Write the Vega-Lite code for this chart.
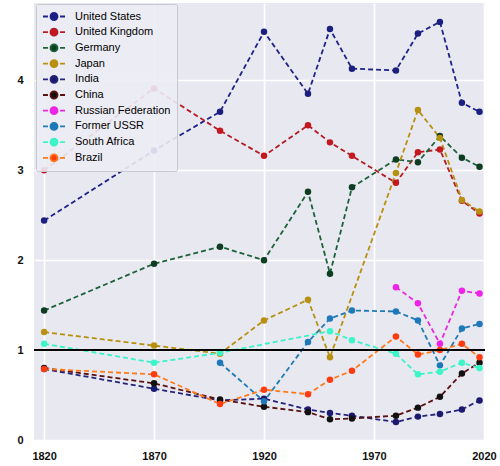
{
  "$schema": "https://vega.github.io/schema/vega-lite/v6.json",
  "width": 451,
  "height": 437,
  "autosize": "none",
  "padding": {"left": 34, "top": 3, "right": 15, "bottom": 26},
  "background": "white",
  "data": {
    "values": [
      {"country": "United States", "year": 1820, "value": 2.44},
      {"country": "United States", "year": 1870, "value": 3.22},
      {"country": "United States", "year": 1900, "value": 3.65},
      {"country": "United States", "year": 1920, "value": 4.54},
      {"country": "United States", "year": 1940, "value": 3.85},
      {"country": "United States", "year": 1950, "value": 4.57},
      {"country": "United States", "year": 1960, "value": 4.13},
      {"country": "United States", "year": 1980, "value": 4.11},
      {"country": "United States", "year": 1990, "value": 4.52},
      {"country": "United States", "year": 2000, "value": 4.65},
      {"country": "United States", "year": 2010, "value": 3.75},
      {"country": "United States", "year": 2018, "value": 3.65},
      {"country": "United Kingdom", "year": 1820, "value": 3.0},
      {"country": "United Kingdom", "year": 1870, "value": 3.91},
      {"country": "United Kingdom", "year": 1900, "value": 3.44},
      {"country": "United Kingdom", "year": 1920, "value": 3.16},
      {"country": "United Kingdom", "year": 1940, "value": 3.5},
      {"country": "United Kingdom", "year": 1950, "value": 3.31},
      {"country": "United Kingdom", "year": 1960, "value": 3.16},
      {"country": "United Kingdom", "year": 1980, "value": 2.86},
      {"country": "United Kingdom", "year": 1990, "value": 3.2},
      {"country": "United Kingdom", "year": 2000, "value": 3.23},
      {"country": "United Kingdom", "year": 2010, "value": 2.66},
      {"country": "United Kingdom", "year": 2018, "value": 2.52},
      {"country": "Germany", "year": 1820, "value": 1.44},
      {"country": "Germany", "year": 1870, "value": 1.96},
      {"country": "Germany", "year": 1900, "value": 2.15},
      {"country": "Germany", "year": 1920, "value": 2.0},
      {"country": "Germany", "year": 1940, "value": 2.76},
      {"country": "Germany", "year": 1950, "value": 1.85},
      {"country": "Germany", "year": 1960, "value": 2.81},
      {"country": "Germany", "year": 1980, "value": 3.12},
      {"country": "Germany", "year": 1990, "value": 3.09},
      {"country": "Germany", "year": 2000, "value": 3.38},
      {"country": "Germany", "year": 2010, "value": 3.14},
      {"country": "Germany", "year": 2018, "value": 3.04},
      {"country": "Japan", "year": 1820, "value": 1.2},
      {"country": "Japan", "year": 1870, "value": 1.05},
      {"country": "Japan", "year": 1900, "value": 0.96},
      {"country": "Japan", "year": 1920, "value": 1.33},
      {"country": "Japan", "year": 1940, "value": 1.56},
      {"country": "Japan", "year": 1950, "value": 0.92},
      {"country": "Japan", "year": 1980, "value": 2.97},
      {"country": "Japan", "year": 1990, "value": 3.67},
      {"country": "Japan", "year": 2000, "value": 3.36},
      {"country": "Japan", "year": 2010, "value": 2.67},
      {"country": "Japan", "year": 2018, "value": 2.54},
      {"country": "India", "year": 1820, "value": 0.79},
      {"country": "India", "year": 1870, "value": 0.57},
      {"country": "India", "year": 1900, "value": 0.44},
      {"country": "India", "year": 1920, "value": 0.46},
      {"country": "India", "year": 1940, "value": 0.34},
      {"country": "India", "year": 1950, "value": 0.3},
      {"country": "India", "year": 1960, "value": 0.27},
      {"country": "India", "year": 1980, "value": 0.2},
      {"country": "India", "year": 1990, "value": 0.26},
      {"country": "India", "year": 2000, "value": 0.29},
      {"country": "India", "year": 2010, "value": 0.34},
      {"country": "India", "year": 2018, "value": 0.44},
      {"country": "China", "year": 1820, "value": 0.8},
      {"country": "China", "year": 1870, "value": 0.63},
      {"country": "China", "year": 1900, "value": 0.45},
      {"country": "China", "year": 1920, "value": 0.37},
      {"country": "China", "year": 1940, "value": 0.31},
      {"country": "China", "year": 1950, "value": 0.23},
      {"country": "China", "year": 1960, "value": 0.24},
      {"country": "China", "year": 1980, "value": 0.27},
      {"country": "China", "year": 1990, "value": 0.36},
      {"country": "China", "year": 2000, "value": 0.48},
      {"country": "China", "year": 2010, "value": 0.74},
      {"country": "China", "year": 2018, "value": 0.86},
      {"country": "Russian Federation", "year": 1980, "value": 1.7},
      {"country": "Russian Federation", "year": 1990, "value": 1.52},
      {"country": "Russian Federation", "year": 2000, "value": 1.07},
      {"country": "Russian Federation", "year": 2010, "value": 1.66},
      {"country": "Russian Federation", "year": 2018, "value": 1.63},
      {"country": "Former USSR", "year": 1900, "value": 0.86},
      {"country": "Former USSR", "year": 1920, "value": 0.43},
      {"country": "Former USSR", "year": 1940, "value": 1.09},
      {"country": "Former USSR", "year": 1950, "value": 1.35},
      {"country": "Former USSR", "year": 1960, "value": 1.44},
      {"country": "Former USSR", "year": 1980, "value": 1.43},
      {"country": "Former USSR", "year": 1990, "value": 1.33},
      {"country": "Former USSR", "year": 2000, "value": 0.83},
      {"country": "Former USSR", "year": 2010, "value": 1.24},
      {"country": "Former USSR", "year": 2018, "value": 1.29},
      {"country": "South Africa", "year": 1820, "value": 1.07},
      {"country": "South Africa", "year": 1870, "value": 0.86},
      {"country": "South Africa", "year": 1900, "value": 0.97},
      {"country": "South Africa", "year": 1950, "value": 1.21},
      {"country": "South Africa", "year": 1960, "value": 1.11},
      {"country": "South Africa", "year": 1980, "value": 0.96},
      {"country": "South Africa", "year": 1990, "value": 0.73},
      {"country": "South Africa", "year": 2000, "value": 0.76},
      {"country": "South Africa", "year": 2010, "value": 0.86},
      {"country": "South Africa", "year": 2018, "value": 0.8},
      {"country": "Brazil", "year": 1820, "value": 0.79},
      {"country": "Brazil", "year": 1870, "value": 0.73},
      {"country": "Brazil", "year": 1900, "value": 0.4},
      {"country": "Brazil", "year": 1920, "value": 0.56},
      {"country": "Brazil", "year": 1940, "value": 0.51},
      {"country": "Brazil", "year": 1950, "value": 0.67},
      {"country": "Brazil", "year": 1960, "value": 0.77},
      {"country": "Brazil", "year": 1980, "value": 1.15},
      {"country": "Brazil", "year": 1990, "value": 0.95},
      {"country": "Brazil", "year": 2000, "value": 1.0},
      {"country": "Brazil", "year": 2010, "value": 1.07},
      {"country": "Brazil", "year": 2018, "value": 0.92}
    ]
  },
  "encoding": {
    "x": {
      "field": "year",
      "type": "quantitative",
      "scale": {"domain": [1815.4, 2020.5], "nice": false, "zero": false},
      "axis": {
        "title": null,
        "values": [1820, 1870, 1920, 1970, 2020],
        "format": "d",
        "labelPadding": 10,
        "labelFlush": false
      }
    },
    "y": {
      "field": "value",
      "type": "quantitative",
      "scale": {"domain": [0, 4.86], "nice": false},
      "axis": {
        "title": null,
        "values": [0, 1, 2, 3, 4],
        "labelPadding": 11,
        "labelFlush": false
      }
    }
  },
  "layer": [
    {
      "mark": {"type": "line", "strokeDash": [5, 3], "strokeWidth": 1.8},
      "encoding": {
        "color": {
          "field": "country",
          "type": "nominal",
          "scale": {
            "domain": ["United States", "United Kingdom", "Germany", "Japan", "India", "China", "Russian Federation", "Former USSR", "South Africa", "Brazil"],
            "range": ["#1e2288", "#b51c22", "#1b6238", "#b8900f", "#25237a", "#5a1010", "#e829e0", "#1f7ab5", "#3cf2c8", "#ff7a1a"]
          },
          "legend": {
            "title": null,
            "orient": "none",
            "legendX": 2,
            "legendY": 1,
            "padding": 6,
            "fillColor": "rgba(236,236,244,0.9)",
            "strokeColor": "#c8c8d0",
            "cornerRadius": 2,
            "symbolType": "M-1,0H-0.55M0.55,0H1M0.32,0A0.32,0.32 0 1 1 -0.32,0A0.32,0.32 0 1 1 0.32,0",
            "symbolSize": 484,
            "symbolStrokeWidth": 1.8,
            "labelFont": "Liberation Sans",
            "labelFontSize": 11,
            "labelFontWeight": "normal",
            "labelColor": "#000",
            "labelOffset": 9,
            "clipHeight": 13,
            "rowPadding": 2.7,
            "labelLimit": 200,
            "encode": {
              "symbols": {
                "update": {
                  "fill": {"scale": "fill", "field": "value"},
                  "stroke": {"scale": "color", "field": "value"}
                }
              }
            }
          }
        }
      }
    },
    {
      "mark": {"type": "point", "filled": true, "size": 42, "opacity": 1},
      "encoding": {
        "fill": {
          "field": "country",
          "type": "nominal",
          "scale": {
            "domain": ["United States", "United Kingdom", "Germany", "Japan", "India", "China", "Russian Federation", "Former USSR", "South Africa", "Brazil"],
            "range": ["#1a1f80", "#c41820", "#0f3d22", "#b8900f", "#1c1a70", "#111111", "#ee22e8", "#1f78b8", "#3cf5c8", "#ff3c10"]
          },
          "legend": null
        }
      }
    },
    {
      "mark": {"type": "rule", "color": "black", "strokeWidth": 2},
      "encoding": {"y": {"datum": 1}, "x": null}
    }
  ],
  "config": {
    "view": {"stroke": null, "fill": "#e8e8f1"},
    "axis": {
      "domain": false,
      "ticks": false,
      "grid": true,
      "gridColor": "white",
      "gridWidth": 1.6,
      "labelFont": "Liberation Sans",
      "labelFontSize": 11,
      "labelFontWeight": "bold",
      "labelColor": "#111"
    }
  }
}
